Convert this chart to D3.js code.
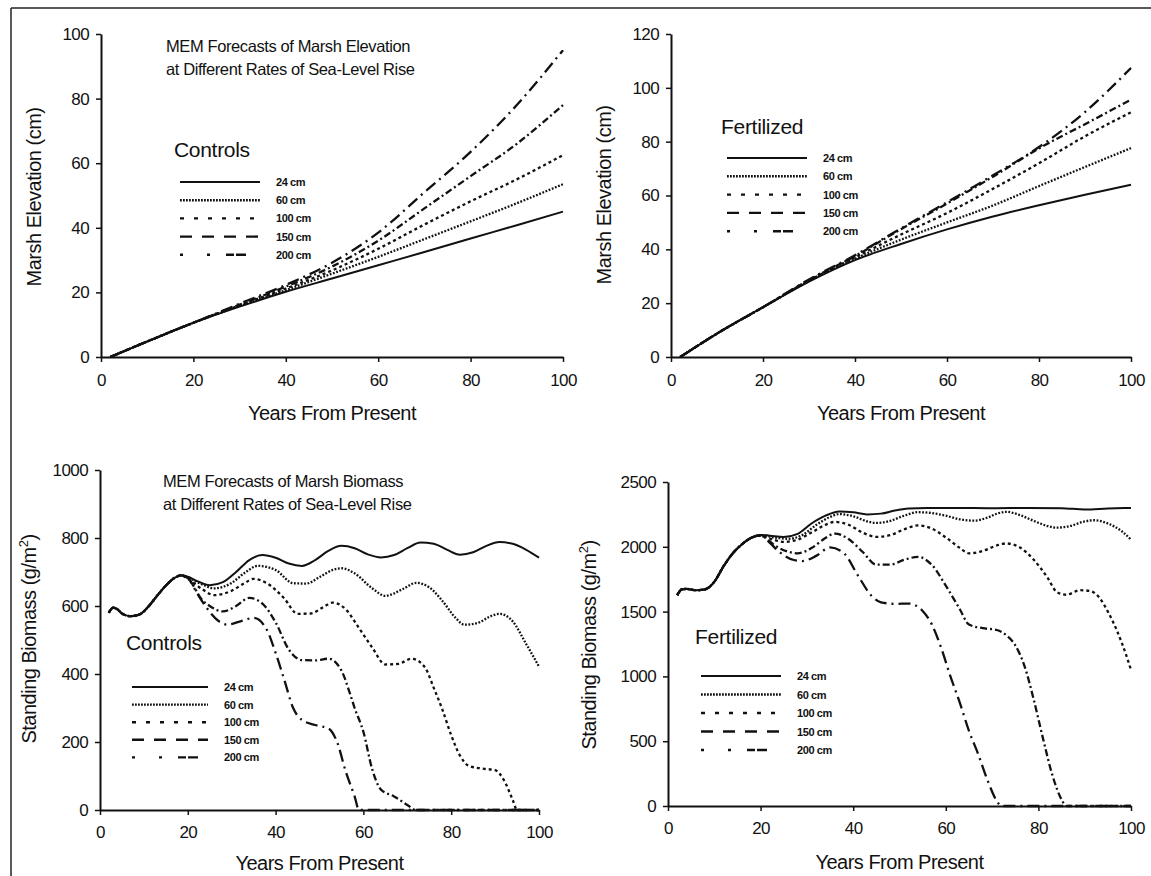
<!DOCTYPE html>
<html>
<head>
<meta charset="utf-8">
<script src="https://cdn.jsdelivr.net/npm/d3@7"></script>
<style>
body { margin: 0; background: #fff; }
svg text { font-family: "Liberation Sans", Arial, sans-serif; fill: #111; }
</style>
</head>
<body>
<div id="chart"></div>
<script>

// sea-level rise scenarios
var seriesLabels = ["24 cm", "60 cm", "100 cm", "150 cm", "200 cm"];
var xTicks = [0, 20, 40, 60, 80, 100];

// marsh elevation (cm), sampled at these years
var elevYears = [2, 10, 20, 30, 40, 50, 60, 70, 80, 90, 100];
var elevCtrl24  = [0, 4.8, 10.6, 15.6, 20.2, 24.3, 28.4, 32.5, 36.7, 40.8, 45];
var elevCtrl60  = [0, 4.8, 10.6, 15.8, 20.7, 25.8, 31, 36.5, 42, 47.6, 53.5];
var elevCtrl100 = [0, 4.8, 10.6, 16, 21.2, 26.8, 33.5, 41, 48.2, 55, 62.5];
var elevCtrl150 = [0, 4.8, 10.6, 16.2, 21.8, 28, 36, 46, 56, 66, 78];
var elevCtrl200 = [0, 4.8, 10.6, 16.5, 22.3, 29.2, 38.5, 51, 63.5, 78, 95];

var elevFert24  = [0, 8.7, 18.5, 28, 36, 42, 47.4, 52.2, 56.4, 60.3, 64];
var elevFert60  = [0, 8.7, 18.5, 28.2, 36.5, 43.6, 50, 56.3, 63.5, 70.6, 77.6];
var elevFert100 = [0, 8.7, 18.5, 28.4, 37, 45.5, 53.5, 62.5, 72, 82, 90.9];
var elevFert150 = [0, 8.7, 18.5, 28.6, 37.5, 47.5, 57, 67, 77.5, 86.5, 95.6];
var elevFert200 = [0, 8.7, 18.5, 28.8, 37.8, 47.8, 57.5, 67.5, 78, 91, 107.4];

// standing biomass (g/m2), [year, value]
var bioCtrlStart = [[2, 580], [3, 595], [4, 590], [5, 578], [7, 570], [9, 575], [11, 598], [13, 630], [15, 660], [17, 683], [18.5, 690]];
var bioCtrl24 = [[20, 686], [22, 674], [25, 661], [28, 670], [31, 700], [34, 735], [37, 750], [40, 742], [43, 725], [46, 718], [49, 735], [52, 762], [55, 777], [58, 770], [61, 752], [64, 743], [67, 750], [70, 770], [73, 787], [76, 783], [79, 766], [82, 751], [85, 758], [88, 777], [91, 788], [94, 783], [97, 766], [100, 742]];
var bioCtrl60 = [[20, 684], [23, 665], [26, 652], [30, 668], [33, 698], [36, 718], [40, 706], [44, 667], [47, 666], [50, 685], [53, 706], [55, 711], [58, 696], [62, 652], [65, 630], [69, 650], [72, 668], [75, 655], [78, 615], [81, 565], [83, 545], [86, 550], [89, 570], [91, 577], [94, 555], [97, 490], [100, 422]];
var bioCtrl100 = [[20, 680], [23, 652], [26, 632], [30, 645], [33, 668], [35, 680], [38, 667], [42, 622], [45, 577], [48, 578], [51, 598], [53, 610], [56, 590], [59, 535], [62, 478], [65, 428], [68, 430], [71, 445], [74, 420], [76, 360], [78, 295], [80, 220], [82, 160], [84, 130], [87, 122], [90, 117], [92, 88], [94, 30], [95, 0], [100, 0]];
var bioCtrl150 = [[20, 682], [21, 665], [23, 622], [25, 600], [28, 584], [31, 600], [34, 624], [37, 607], [40, 552], [43, 472], [46, 441], [49, 440], [52, 445], [55, 410], [57, 340], [58, 300], [60, 230], [62, 120], [64, 60], [67, 40], [70, 15], [72, 0], [100, 0]];
var bioCtrl200 = [[20, 683], [22, 640], [24, 600], [27, 556], [29, 545], [32, 555], [35, 565], [38, 530], [40, 462], [42, 382], [44, 300], [46, 265], [49, 250], [52, 240], [54, 200], [56, 112], [58, 40], [59, 0], [100, 0]];

var bioFertStart = [[2, 1627], [3, 1672], [4, 1675], [6, 1665], [8, 1672], [10, 1730], [12, 1850], [14, 1950], [16, 2020], [18, 2070]];
var bioFert24 = [[20, 2092], [22, 2086], [25, 2076], [28, 2100], [31, 2180], [34, 2240], [37, 2272], [40, 2266], [43, 2250], [46, 2256], [49, 2280], [52, 2295], [56, 2300], [62, 2300], [70, 2298], [78, 2300], [85, 2298], [90, 2288], [95, 2295], [100, 2300]];
var bioFert60 = [[20, 2090], [23, 2072], [26, 2062], [29, 2090], [32, 2168], [35, 2230], [37, 2252], [40, 2236], [43, 2196], [45, 2184], [48, 2200], [51, 2240], [54, 2267], [57, 2260], [60, 2240], [63, 2212], [66, 2202], [69, 2225], [71, 2255], [73, 2270], [76, 2245], [79, 2200], [82, 2160], [84, 2148], [87, 2162], [90, 2196], [92, 2205], [95, 2180], [98, 2120], [100, 2055]];
var bioFert100 = [[20, 2085], [23, 2052], [25, 2038], [28, 2055], [31, 2110], [34, 2170], [36, 2192], [39, 2170], [42, 2110], [45, 2077], [48, 2090], [51, 2135], [54, 2165], [57, 2140], [60, 2072], [63, 1992], [65, 1950], [68, 1968], [71, 2010], [73, 2026], [76, 1995], [79, 1900], [82, 1760], [84, 1650], [86, 1630], [89, 1665], [91, 1660], [93, 1615], [95, 1500], [97, 1350], [99, 1160], [100, 1050]];
var bioFert150 = [[20, 2088], [21, 2070], [23, 2012], [26, 1962], [28, 1950], [31, 1990], [34, 2068], [36, 2102], [39, 2060], [42, 1962], [45, 1862], [48, 1862], [51, 1900], [54, 1922], [57, 1860], [60, 1700], [63, 1520], [65, 1400], [68, 1372], [71, 1358], [73, 1320], [75, 1240], [77, 1080], [79, 820], [81, 520], [83, 240], [85, 50], [86, 0], [100, 0]];
var bioFert200 = [[20, 2088], [22, 2030], [24, 1962], [27, 1900], [29, 1890], [32, 1930], [35, 1995], [38, 1950], [41, 1780], [44, 1620], [46, 1572], [49, 1560], [52, 1562], [55, 1505], [57, 1400], [59, 1220], [61, 1000], [63, 800], [65, 580], [67, 400], [69, 200], [71, 40], [72, 0], [100, 0]];

// line styles for the five scenarios
var lineDash   = ["none", "1.8,1.6", "3,3", "7,3,2,3", "12,5,2,5"];
var legendDash = ["none", "1.8,1.2", "4,10", "12,10", "3,24,3,16,8,2,10,40"];

var toPairs = function(values) {
    return values.map(function(v, i) { return [elevYears[i], v]; });
};

var svg = d3.select("#chart").append("svg")
    .attr("width", 1151)
    .attr("height", 876);

// frame of the figure
svg.append("line").attr("x1", 11).attr("y1", 8).attr("x2", 1151).attr("y2", 8)
    .attr("stroke", "#222").attr("stroke-width", 1.5);
svg.append("line").attr("x1", 11).attr("y1", 8).attr("x2", 11).attr("y2", 876)
    .attr("stroke", "#222").attr("stroke-width", 1.5);

var drawPanel = function(p) {
    var x = d3.scaleLinear().domain([0, 100]).range([p.left, p.right]);
    var y = d3.scaleLinear().domain([0, p.ymax]).range([p.bottom, p.top]);
    var g = svg.append("g");

    var xAxis = g.append("g")
        .attr("transform", "translate(0," + p.bottom + ")")
        .call(d3.axisBottom(x).tickValues(xTicks).tickSize(5).tickSizeOuter(0).tickPadding(p.xPad));
    var yAxis = g.append("g")
        .attr("transform", "translate(" + p.left + ",0)")
        .call(d3.axisLeft(y).ticks(p.ymax / p.ystep).tickFormat(d3.format("d"))
            .tickSize(5).tickSizeOuter(0).tickPadding(7));

    [xAxis, yAxis].forEach(function(a) {
        a.select(".domain").attr("stroke", "#111").attr("stroke-width", 2);
        a.selectAll(".tick line").attr("stroke", "#111").attr("stroke-width", 1.5);
        a.selectAll(".tick text").style("font-size", "17px").attr("fill", "#111")
            .style("letter-spacing", "-0.6px")
            .style("font-family", "Liberation Sans, Arial, sans-serif");
    });

    // axis titles
    g.append("text")
        .attr("x", (p.left + p.right) / 2)
        .attr("y", p.xTitleY)
        .attr("text-anchor", "middle")
        .style("font-size", "20px")
        .style("letter-spacing", "-0.5px")
        .text("Years From Present");

    var yt = g.append("text")
        .attr("transform", "translate(" + p.yTitleX + "," + p.yTitleY + ") rotate(-90)")
        .attr("text-anchor", "middle")
        .style("font-size", "20px")
        .style("letter-spacing", "-0.5px");
    if (p.biomass) {
        yt.append("tspan").text("Standing Biomass (g/m");
        yt.append("tspan").text("2").attr("dy", -8).style("font-size", "13px");
        yt.append("tspan").text(")").attr("dy", 8);
    } else {
        yt.text("Marsh Elevation (cm)");
    }

    // curves
    var line = d3.line()
        .x(function(d) { return x(d[0]); })
        .y(function(d) { return y(d[1]); })
        .curve(d3.curveMonotoneX);

    p.series.forEach(function(s, i) {
        g.append("path")
            .datum(s)
            .attr("d", line)
            .attr("fill", "none")
            .attr("stroke", "#111")
            .attr("stroke-width", i == 0 ? 2 : 2.3)
            .attr("stroke-dasharray", lineDash[i]);
    });

    // chart title
    if (p.title) {
        p.title.forEach(function(t, i) {
            g.append("text")
                .attr("x", p.titleX)
                .attr("y", p.titleY + i * 23)
                .style("font-size", "16.5px")
                .style("letter-spacing", "-0.4px")
                .text(t);
        });
    }

    // legend
    g.append("text")
        .attr("x", p.legend.x - 6)
        .attr("y", p.legend.headY)
        .style("font-size", "21px")
        .style("letter-spacing", "-0.3px")
        .text(p.legend.head);

    seriesLabels.forEach(function(label, i) {
        var ly = p.legend.y + i * p.legend.step;
        g.append("line")
            .attr("x1", p.legend.x).attr("x2", p.legend.x + p.legend.len)
            .attr("y1", ly).attr("y2", ly)
            .attr("stroke", "#111")
            .attr("stroke-width", i == 0 ? 2 : 2.4)
            .attr("stroke-dasharray", legendDash[i]);
        g.append("text")
            .attr("x", p.legend.x + p.legend.len + 16)
            .attr("y", ly + 4)
            .style("font-size", "11px")
            .style("font-weight", "bold")
            .style("letter-spacing", "-0.4px")
            .text(label);
    });
};

drawPanel({
    left: 101, right: 563, top: 34, bottom: 357, ymax: 100, ystep: 20, xPad: 12,
    xTitleY: 420, yTitleX: 41, yTitleY: 197,
    series: [elevCtrl24, elevCtrl60, elevCtrl100, elevCtrl150, elevCtrl200].map(toPairs),
    title: ["MEM Forecasts of Marsh Elevation", "at Different Rates of Sea-Level Rise"],
    titleX: 166, titleY: 52,
    legend: { head: "Controls", x: 180, headY: 157, y: 182, step: 18.2, len: 80 }
});

drawPanel({
    left: 671, right: 1131, top: 34, bottom: 357, ymax: 120, ystep: 20, xPad: 12,
    xTitleY: 420, yTitleX: 611, yTitleY: 195,
    series: [elevFert24, elevFert60, elevFert100, elevFert150, elevFert200].map(toPairs),
    legend: { head: "Fertilized", x: 727, headY: 134, y: 158, step: 18.3, len: 80 }
});

drawPanel({
    left: 100, right: 539, top: 470, bottom: 810, ymax: 1000, ystep: 200, xPad: 11, biomass: true,
    xTitleY: 870, yTitleX: 36, yTitleY: 639,
    series: [bioCtrl24, bioCtrl60, bioCtrl100, bioCtrl150, bioCtrl200].map(function(s) { return bioCtrlStart.concat(s); }),
    title: ["MEM Forecasts of Marsh Biomass", "at Different Rates of Sea-Level Rise"],
    titleX: 163, titleY: 487,
    legend: { head: "Controls", x: 132, headY: 650, y: 687, step: 17.6, len: 76 }
});

drawPanel({
    left: 668, right: 1131, top: 482, bottom: 806, ymax: 2500, ystep: 500, xPad: 11, biomass: true,
    xTitleY: 869, yTitleX: 596, yTitleY: 645,
    series: [bioFert24, bioFert60, bioFert100, bioFert150, bioFert200].map(function(s) { return bioFertStart.concat(s); }),
    legend: { head: "Fertilized", x: 701, headY: 644, y: 676, step: 18.5, len: 80 }
});

</script>
</body>
</html>
